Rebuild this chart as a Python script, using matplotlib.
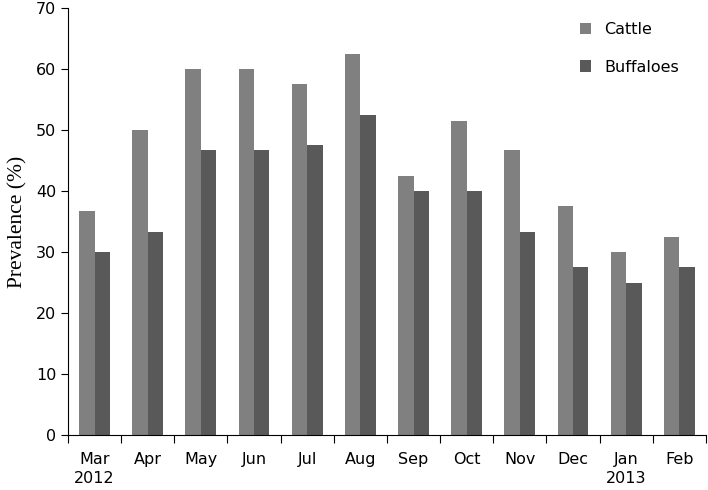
import matplotlib.pyplot as plt
import matplotlib.transforms as mtransforms
import numpy as np

months = ['Mar', 'Apr', 'May', 'Jun', 'Jul', 'Aug', 'Sep', 'Oct', 'Nov', 'Dec', 'Jan', 'Feb']
cattle = [36.7, 50, 60, 60, 57.5, 62.5, 42.5, 51.5, 46.7, 37.5, 30, 32.5]
buffaloes = [30, 33.3, 46.7, 46.7, 47.5, 52.5, 40, 40, 33.3, 27.5, 25, 27.5]
years = {0: '2012', 10: '2013'}

fig = plt.figure(figsize=(7.08, 4.9), dpi=100)
ax = fig.add_axes([0.096, 0.112, 0.901, 0.872])

x = np.arange(len(months))
w = 0.29
ax.bar(x - w / 2, cattle, w, color='#808080', label='Cattle')
ax.bar(x + w / 2, buffaloes, w, color='#595959', label='Buffaloes')

ax.set_xlim(-0.5, len(months) - 0.5)
ax.set_ylim(0, 70)
ax.set_yticks(range(0, 71, 10))
ax.set_xticks(np.arange(-0.5, len(months), 1))
ax.set_xticklabels([])
ax.set_xticks(x, minor=True)
ax.set_xticklabels(months, minor=True)
ax.tick_params(axis='x', which='minor', length=0, pad=12, labelsize=11.5)
ax.tick_params(axis='x', which='major', direction='out', length=6)
ax.tick_params(axis='y', direction='out', length=5, labelsize=11.5)

for s in ['top', 'right']:
    ax.spines[s].set_visible(False)

trans = mtransforms.blended_transform_factory(ax.transData, ax.transAxes)
for i, yr in years.items():
    ax.text(i, -0.085, yr, transform=trans, ha='center', va='top', fontsize=11.5)

ax.set_ylabel('Prevalence (%)', family='Liberation Serif', fontsize=15.5, labelpad=6)

ax.legend(loc='upper right', frameon=False, fontsize=11.5, handlelength=0.7,
          handleheight=0.7, labelspacing=1.4, bbox_to_anchor=(0.98, 1.0))

fig.savefig('out.png', dpi=100)
